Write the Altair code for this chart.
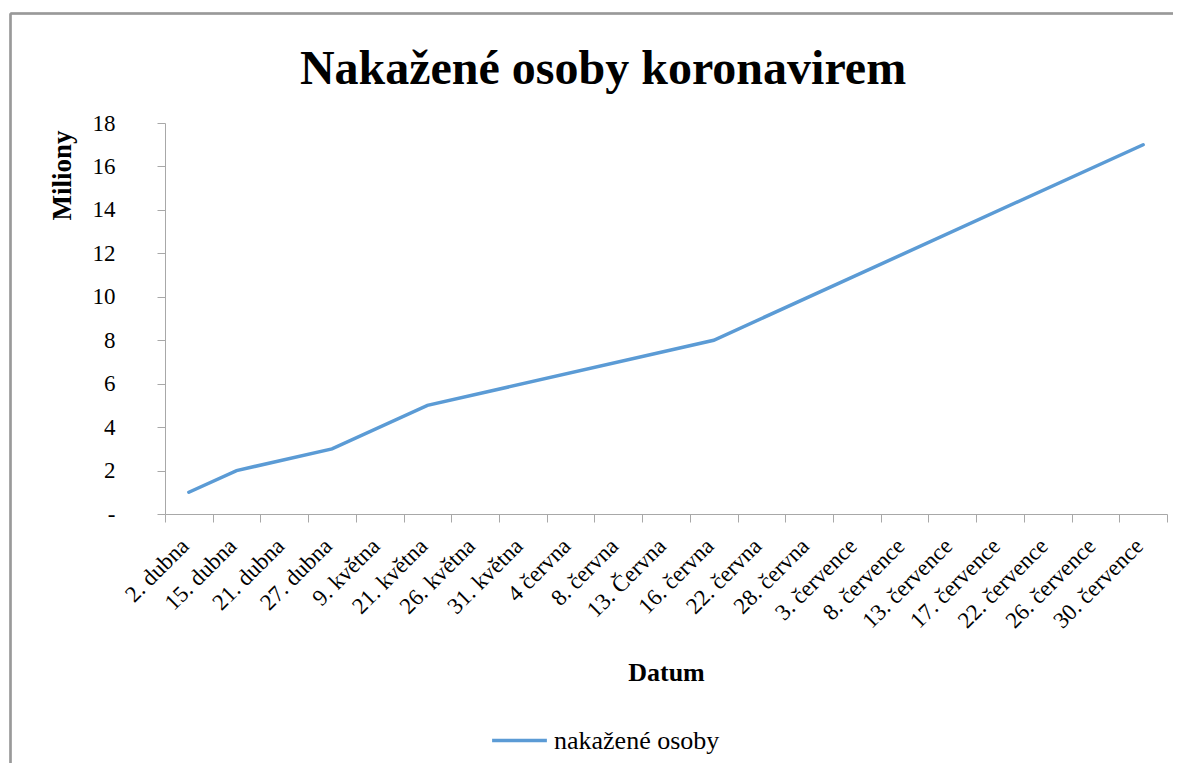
import altair as alt
import pandas as pd

categories = ["2. dubna", "15. dubna", "21. dubna", "27. dubna", "9. května", "21. května",
              "26. května", "31. května", "4 června", "8. června", "13. Června", "16. června",
              "22. června", "28. června", "3. července", "8. července", "13. července",
              "17. července", "22. července", "26. července", "30. července"]
values = [1, 2, None, 3, None, 5, None, None, None, None, None, 8,
          None, None, None, None, None, None, None, None, 17]
series_name = "nakažené osoby"
y_ticks = [0, 2, 4, 6, 8, 10, 12, 14, 16, 18]

df = pd.DataFrame({"datum": categories, "milion": values, "serie": series_name})
df = df.dropna()

FONT = "Liberation Serif"
AXIS_GRAY = "#A8A8A8"
W, H = 1002, 391
PX, PY = 165, 123  # plot origin in page coords

line = alt.Chart(df).mark_line(strokeWidth=3.5, strokeCap="round").encode(
    x=alt.X("datum:N", sort=categories, bandPosition=0.5,
            scale=alt.Scale(type="band", domain=categories, paddingInner=0, paddingOuter=0),
            axis=alt.Axis(title="Datum", labelAngle=-45, labelAlign="right", labelBaseline="middle",
                          labelFont=FONT, labelFontSize=23, labelColor="black", labelPadding=20,
                          labelOffset=-4,
                          tickBand="extent", tickSize=8, tickColor=AXIS_GRAY, domainColor=AXIS_GRAY,
                          titleFont=FONT, titleFontSize=26, titleFontWeight="bold", titleColor="black",
                          titleY=158, titleBaseline="middle", labelOverlap=False, grid=False)),
    y=alt.Y("milion:Q",
            scale=alt.Scale(domain=[0, 18], nice=False, zero=True),
            axis=alt.Axis(title="Miliony", values=y_ticks,
                          labelExpr="datum.value == 0 ? '-\u00a0\u00a0\u00a0' : datum.label",
                          labelFont=FONT, labelFontSize=23, labelColor="black", labelPadding=42,
                          tickSize=8, tickColor=AXIS_GRAY, domainColor=AXIS_GRAY,
                          titleFont=FONT, titleFontSize=27, titleFontWeight="bold", titleColor="black",
                          titleAngle=-90, titleX=-103, titleY=52, titleAlign="center",
                          titleBaseline="middle", grid=False)),
    color=alt.Color("serie:N", scale=alt.Scale(range=["#5B9BD5"]),
                    legend=alt.Legend(title=None, orient="none", legendX=325, legendY=588,
                                      symbolType="stroke", symbolSize=3000, symbolStrokeWidth=3.5,
                                      labelFont=FONT, labelFontSize=26, labelColor="black",
                                      labelOffset=5, labelLimit=400, padding=0)),
)

border_top = alt.Chart(df).mark_rule(color="#999999", strokeWidth=1.5).encode(
    x=alt.value(10.5 - PX), x2=alt.value(1300), y=alt.value(13.5 - PY))
border_left = alt.Chart(df).mark_rule(color="#999999", strokeWidth=1.5).encode(
    x=alt.value(10.5 - PX), y=alt.value(13.5 - PY), y2=alt.value(900))

chart = alt.layer(border_top, border_left, line).properties(
    width=W, height=H,
    background="white",
    title=alt.TitleParams("Nakažené osoby koronavirem", font=FONT, fontSize=48,
                          fontWeight="bold", color="black", anchor="middle", frame="group",
                          baseline="alphabetic", dx=-63, offset=-119),
    autosize=alt.AutoSizeParams(type="none"),
    padding={"left": PX - 8, "top": PY - 8, "right": 6, "bottom": 249},
).configure_view(strokeWidth=0)

chart.save("out.html", embed_options={"renderer": "svg", "actions": False})
